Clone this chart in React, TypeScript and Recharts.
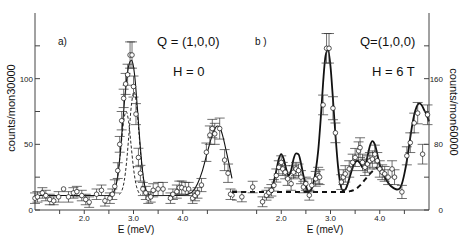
import React from 'react';
import { ComposedChart, Line, Scatter, XAxis, YAxis, ErrorBar } from 'recharts';

// panel a) H = 0, counts/mon30000
const energyA = [1.0, 1.05, 1.15, 1.22, 1.3, 1.38, 1.48, 1.58, 1.68, 1.78, 1.85, 1.95, 2.03, 2.1, 2.25, 2.35, 2.42, 2.52, 2.57, 2.62, 2.68, 2.72, 2.76, 2.8, 2.84, 2.88, 2.93, 2.97, 3.0, 3.05, 3.1, 3.14, 3.19, 3.25, 3.3, 3.35, 3.4, 3.5, 3.6, 3.75, 3.8, 3.88, 3.93, 3.98, 4.05, 4.12, 4.2, 4.25, 4.3, 4.38, 4.48, 4.55, 4.6, 4.65, 4.75, 4.85, 4.92, 4.97];
const countsA = [9, 10, 13, 11, 8, 7, 10, 16, 10, 13, 14, 11, 8, 6, 12, 15, 7, 9, 12, 18, 30, 50, 68, 85, 96, 103, 118, 118, 94, 73, 40, 28, 16, 13, 9, 10, 15, 16, 16, 9, 12, 14, 17, 17, 16, 16, 9, 11, 13, 19, 44, 57, 62, 58, 62, 38, 28, 12];
const errA = [4, 4, 4, 4, 4, 3, 4, 0, 4, 4, 4, 4, 4, 4, 4, 4, 4, 4, 4, 5, 6, 6, 7, 7, 8, 8, 10, 10, 8, 8, 7, 6, 5, 5, 4, 4, 5, 5, 5, 4, 4, 5, 5, 5, 5, 5, 4, 4, 4, 5, 7, 7, 7, 8, 8, 8, 7, 4];

const fitEA = [1.0, 1.5, 2.0, 2.45, 2.53, 2.58, 2.63, 2.68, 2.73, 2.78, 2.83, 2.88, 2.93, 2.96, 2.99, 3.03, 3.08, 3.13, 3.18, 3.23, 3.28, 3.33, 3.4, 3.6, 3.8, 4.0, 4.1, 4.2, 4.3, 4.4, 4.5, 4.6, 4.7, 4.75, 4.8, 4.9, 5.0];
const fitA = [11, 11, 11, 11, 11.4, 12.7, 16.7, 26, 43, 66, 88, 105, 113, 114, 111, 100, 77, 52, 31, 18, 13, 11.5, 11, 11, 11, 11, 12, 14, 20, 30, 44, 57, 64, 63, 58, 42, 24];
const comp1E = [2.55, 2.6, 2.65, 2.7, 2.75, 2.8, 2.85, 2.9, 2.95, 3.0, 3.05, 3.1, 3.15];
const comp1 = [11.7, 13.8, 19.7, 31.8, 49.8, 67.5, 75, 67.5, 49.8, 31.8, 19.7, 13.8, 11.7];
const comp2E = [2.71, 2.76, 2.81, 2.86, 2.91, 2.96, 3.01, 3.06, 3.11, 3.16, 3.21, 3.26, 3.31];
const comp2 = [11.9, 14.4, 21.7, 36.7, 58.9, 80.7, 90, 80.7, 58.9, 36.7, 21.7, 14.4, 11.9];

// panel b) H = 6 T, counts/mon60000
const energyB = [1.0, 1.2, 1.42, 1.62, 1.7, 1.75, 1.8, 1.85, 1.9, 1.95, 2.0, 2.03, 2.08, 2.13, 2.2, 2.25, 2.3, 2.35, 2.4, 2.45, 2.5, 2.57, 2.62, 2.7, 2.75, 2.78, 2.85, 2.92, 2.97, 3.05, 3.1, 3.22, 3.26, 3.3, 3.38, 3.45, 3.5, 3.57, 3.6, 3.65, 3.7, 3.75, 3.8, 3.85, 3.9, 3.95, 4.0, 4.05, 4.1, 4.17, 4.25, 4.3, 4.45, 4.55, 4.62, 4.7, 4.77, 4.87, 4.97];
const countsB = [18, 16, 28, 10, 18, 21, 24, 30, 42, 52, 58, 50, 46, 38, 32, 46, 50, 48, 40, 28, 32, 18, 30, 38, 42, 40, 128, 197, 197, 124, 94, 34, 40, 44, 50, 58, 64, 72, 76, 58, 52, 56, 60, 62, 68, 60, 50, 46, 44, 40, 50, 40, 22, 66, 82, 106, 118, 68, 116];
const errB = [6, 6, 7, 6, 6, 6, 7, 7, 8, 8, 8, 8, 8, 8, 8, 8, 8, 8, 8, 7, 8, 6, 8, 9, 10, 9, 12, 18, 18, 14, 12, 9, 9, 10, 10, 10, 11, 11, 12, 10, 10, 10, 10, 10, 11, 10, 10, 9, 9, 9, 10, 9, 8, 11, 12, 12, 13, 12, 12];

const fitEB = [1.75, 1.8, 1.85, 1.9, 1.95, 2.0, 2.05, 2.1, 2.15, 2.2, 2.25, 2.3, 2.35, 2.4, 2.45, 2.5, 2.55, 2.6, 2.65, 2.7, 2.75, 2.8, 2.85, 2.9, 2.95, 3.0, 3.05, 3.1, 3.15, 3.2, 3.25, 3.3, 3.35, 3.4, 3.45, 3.5, 3.55, 3.6, 3.65, 3.7, 3.75, 3.8, 3.85, 3.9, 3.95, 4.0, 4.05, 4.1, 4.15, 4.2, 4.25, 4.3, 4.35, 4.4, 4.45, 4.5, 4.55, 4.6, 4.65, 4.7, 4.75, 4.8, 4.85, 4.9, 4.95, 5.0];
const fitB = [23, 26, 35, 48, 62, 68, 62, 50, 42, 48, 62, 69, 68, 57, 42, 30, 22, 24, 32, 48, 72, 110, 155, 188, 195, 175, 135, 92, 55, 32, 24, 25, 32, 42, 52, 58, 60, 57, 52, 54, 65, 78, 84, 80, 68, 55, 47, 40, 35, 31, 28, 26, 25, 26, 32, 44, 60, 80, 100, 116, 126, 130, 128, 122, 116, 108];
const bgEB = [1.0, 3.3, 3.4, 3.5, 3.6, 3.7, 3.8, 3.9, 3.95];
const bgB = [22, 22, 23, 25, 30, 37, 44, 50, 52];

const xTicks = [1.5, 2, 2.5, 3, 3.5, 4, 4.5];
const yTicksA = [0, 25, 50, 75, 100, 125];
const yLabelsA = [0, 50, 100];
const yTicksB = [0, 40, 80, 120, 160, 200];
const yLabelsB = [0, 80, 160];

const pts = (e: number[], c: number[], err?: number[]) =>
  e.map((x, i) => ({ e: x, c: c[i], err: err ? err[i] : 0 }));

const FONT = "'Liberation Sans', Arial, Helvetica, sans-serif";
const tickStyle = { fontSize: 8, fill: '#222', fontFamily: FONT };
const axisColor = '#444';

const circle = (p: any) => (
  <circle cx={p.cx} cy={p.cy} r={2.3} fill="#fff" stroke="#111" strokeWidth={0.7} />
);

const xFmt = (v: number) => (Number.isInteger(v) ? v.toFixed(1) : '');
const blank = () => '';

export default function App() {
  const dataA = pts(energyA, countsA, errA);
  const dataB = pts(energyB, countsB, errB);

  return (
    <div style={{ position: 'absolute', left: 0, top: 0, width: 463, height: 245, background: '#fff', overflow: 'hidden' }}>
      <div style={{ position: 'absolute', left: 0, top: 0 }}>
        <ComposedChart width={240} height={245} margin={{ top: 13, right: 8, bottom: 15, left: 0 }}>
          <XAxis xAxisId="b" dataKey="e" type="number" domain={[1, 5]} ticks={xTicks} tickFormatter={xFmt}
            height={20} tickSize={4} tickMargin={1} stroke={axisColor} tick={tickStyle} interval={0} />
          <XAxis xAxisId="t" orientation="top" dataKey="e" type="number" domain={[1, 5]} ticks={xTicks}
            tickFormatter={blank} height={0} tickSize={-4} stroke={axisColor} interval={0} />
          <YAxis yAxisId="m" dataKey="c" type="number" domain={[0, 150]} ticks={yTicksA} interval={0}
            tickFormatter={(v: number) => (yLabelsA.includes(v) ? String(v) : '')}
            width={35} tickSize={-5} tickMargin={7} stroke={axisColor} tick={tickStyle} />
          <YAxis yAxisId="r" orientation="right" type="number" domain={[0, 150]} ticks={yTicksA} interval={0}
            tickFormatter={blank} width={0} tickSize={-5} stroke={axisColor} />
          <Line xAxisId="b" yAxisId="m" data={pts(comp1E, comp1)} dataKey="c" type="monotone" stroke="#111"
            strokeWidth={0.9} strokeDasharray="3 2" dot={false} isAnimationActive={false} />
          <Line xAxisId="b" yAxisId="m" data={pts(comp2E, comp2)} dataKey="c" type="monotone" stroke="#111"
            strokeWidth={0.9} strokeDasharray="3 2" dot={false} isAnimationActive={false} />
          <Line xAxisId="b" yAxisId="m" data={pts(fitEA, fitA)} dataKey="c" type="monotone" stroke="#111"
            strokeWidth={1.1} dot={false} isAnimationActive={false} />
          <Scatter xAxisId="b" yAxisId="m" data={dataA} dataKey="c" shape={circle} isAnimationActive={false}>
            <ErrorBar dataKey="err" direction="y" width={5} stroke="#333" strokeWidth={0.7} />
          </Scatter>
        </ComposedChart>
      </div>
      <div style={{ position: 'absolute', left: 232, top: 0 }}>
        <ComposedChart width={231} height={245} margin={{ top: 13, right: 0, bottom: 15, left: 0 }}>
          <XAxis xAxisId="b" dataKey="e" type="number" domain={[1, 5]} ticks={xTicks} tickFormatter={xFmt}
            height={20} tickSize={4} tickMargin={1} stroke={axisColor} tick={tickStyle} interval={0} />
          <XAxis xAxisId="t" orientation="top" dataKey="e" type="number" domain={[1, 5]} ticks={xTicks}
            tickFormatter={blank} height={0} tickSize={-4} stroke={axisColor} interval={0} />
          <YAxis yAxisId="l" type="number" domain={[0, 240]} ticks={yTicksB} interval={0}
            tickFormatter={blank} width={0} tickSize={-5} stroke={axisColor} />
          <YAxis yAxisId="m" orientation="right" dataKey="c" type="number" domain={[0, 240]} ticks={yTicksB} interval={0}
            tickFormatter={(v: number) => (yLabelsB.includes(v) ? String(v) : '')}
            width={34} tickSize={-5} tickMargin={19} stroke={axisColor} tick={{ ...tickStyle, textAnchor: 'end' }} />
          <Line xAxisId="b" yAxisId="m" data={pts(bgEB, bgB)} dataKey="c" type="monotone" stroke="#111"
            strokeWidth={2} strokeDasharray="5 4" dot={false} isAnimationActive={false} />
          <Line xAxisId="b" yAxisId="m" data={pts(fitEB, fitB)} dataKey="c" type="monotone" stroke="#111"
            strokeWidth={1.8} dot={false} isAnimationActive={false} />
          <Scatter xAxisId="b" yAxisId="m" data={dataB} dataKey="c" shape={circle} isAnimationActive={false}>
            <ErrorBar dataKey="err" direction="y" width={5} stroke="#333" strokeWidth={0.7} />
          </Scatter>
        </ComposedChart>
      </div>
      <svg width={463} height={245} style={{ position: 'absolute', left: 0, top: 0, pointerEvents: 'none' }}
        fontFamily={FONT} fill="#111">
        <text x={11} y={108} transform="rotate(-90 11 108)" textAnchor="middle" dominantBaseline="central" fontSize={11}>counts/mon30000</text>
        <text x={454} y={112} transform="rotate(90 454 112)" textAnchor="middle" dominantBaseline="central" fontSize={11}>counts/mon60000</text>
        <text x={136} y={233} textAnchor="middle" fontSize={10}>E (meV)</text>
        <text x={325} y={233} textAnchor="middle" fontSize={10}>E (meV)</text>
        <text x={58} y={45} fontSize={10}>a)</text>
        <text x={157} y={46} fontSize={13}>Q = (1,0,0)</text>
        <text x={173} y={76} fontSize={13}>H = 0</text>
        <text x={255} y={45} fontSize={10}>b )</text>
        <text x={360} y={46} fontSize={13}>Q=(1,0,0)</text>
        <text x={372} y={76} fontSize={13}>H = 6 T</text>
      </svg>
    </div>
  );
}
